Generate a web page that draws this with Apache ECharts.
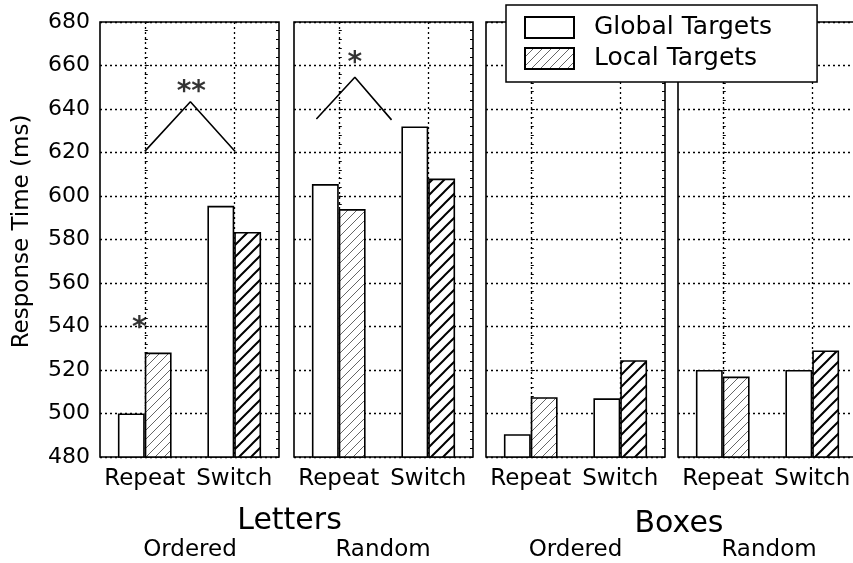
<!DOCTYPE html>
<html>
<head>
<meta charset="utf-8">
<script src="https://cdn.jsdelivr.net/npm/echarts@6/dist/echarts.min.js"></script>
<style>html,body{margin:0;padding:0;background:#fff}#c{width:853px;height:563px}</style>
</head>
<body>
<div id="c"></div>
<script>
// ---- data ----
const categories = ['Repeat', 'Switch'];
const panelNames = ['Letters Ordered', 'Letters Random', 'Boxes Ordered', 'Boxes Random'];
const seriesNames = ['Global Targets', 'Local Targets'];
const globalLettersOrdered = [500, 595.5];
const localLettersOrdered = [528, 583.5];
const globalLettersRandom = [605.5, 632];
const localLettersRandom = [594, 608];
const globalBoxesOrdered = [490.5, 507];
const localBoxesOrdered = [507.5, 524.5];
const globalBoxesRandom = [520, 520];
const localBoxesRandom = [517, 529];
const yMin = 480, yMax = 680, yStep = 20;
const yAxisTitle = 'Response Time (ms)';
const groupLabels = ['Letters', 'Boxes'];
const orderLabels = ['Ordered', 'Random', 'Ordered', 'Random'];
// significance annotations (value-axis x: 0 = Repeat, 1 = Switch)
const bracketLettersOrdered = [[0, 620.5], [0.51, 643.3], [1.01, 620.5]];
const bracketLettersRandom = [[-0.25, 635.4], [0.18, 654.6], [0.59, 635]];
const starsLettersOrdered = [{ value: [0.52, 647.5], name: '**' }, { value: [-0.06, 539], name: '*' }];
const starsLettersRandom = [{ value: [0.18, 661], name: '*' }];

const globalData = [globalLettersOrdered, globalLettersRandom, globalBoxesOrdered, globalBoxesRandom];
const localData = [localLettersOrdered, localLettersRandom, localBoxesOrdered, localBoxesRandom];
const brackets = [bracketLettersOrdered, bracketLettersRandom, null, null];
const stars = [starsLettersOrdered, starsLettersRandom, null, null];

// ---- styles ----
const FONT = 'DejaVu Sans';
function hatch(size, color, width) {
  const c = document.createElement('canvas');
  c.width = size; c.height = size;
  const g = c.getContext('2d');
  g.fillStyle = '#fff'; g.fillRect(0, 0, size, size);
  g.strokeStyle = color; g.lineWidth = width;
  g.beginPath();
  g.moveTo(0, size); g.lineTo(size, 0);
  g.moveTo(-size / 2, size / 2); g.lineTo(size / 2, -size / 2);
  g.moveTo(size / 2, size * 1.5); g.lineTo(size * 1.5, size / 2);
  g.stroke();
  return { image: c, repeat: 'repeat' };
}
const thinHatch = hatch(9, '#555', 0.9);
const thickHatch = hatch(12, '#000', 2);

const lefts = [100, 294, 486, 678];
const W = 179, TOP = 22, H = 435;
const dotted = { color: '#000', width: 1.3, type: [2, 3] };

const grids = [], xAxes = [], yAxes = [], series = [];
lefts.forEach((l, p) => {
  grids.push({ left: l, top: TOP, width: W, height: H, show: true, borderColor: '#000', borderWidth: 1.6,
    backgroundColor: 'transparent', containLabel: false, outerBoundsMode: 'none' });
});
lefts.forEach((l, p) => {
  xAxes.push({ type: 'category', gridIndex: p, data: categories, boundaryGap: true,
    axisLine: { show: false }, axisTick: { show: false },
    axisLabel: { interval: 0, hideOverlap: false, fontSize: 23, fontFamily: FONT, color: '#000', margin: 11 },
    splitLine: { show: true, alignWithLabel: true, lineStyle: dotted } });
});
lefts.forEach((l, p) => {
  xAxes.push({ type: 'value', gridIndex: p, min: -0.5, max: 1.5, show: false, splitLine: { show: false } });
});
lefts.forEach((l, p) => {
  yAxes.push({ type: 'value', gridIndex: p, min: yMin, max: yMax, interval: yStep, position: 'left',
    name: p === 0 ? yAxisTitle : '', nameLocation: 'middle', nameGap: 66,
    nameTextStyle: { fontSize: 23, fontFamily: FONT, color: '#000', padding: [0, 0, 0, 16] },
    axisLine: { show: false },
    axisTick: { show: true, inside: true, length: 4, lineStyle: { color: '#000', width: 1 } },
    minorTick: { show: true, splitNumber: 5, length: 3, lineStyle: { color: '#000', width: 1 } },
    axisLabel: { show: p === 0, fontSize: 22, fontFamily: FONT, color: '#000', margin: 10 },
    splitLine: { show: true, lineStyle: dotted } });
});
lefts.forEach((l, p) => {
  yAxes.push({ type: 'value', gridIndex: p, min: yMin, max: yMax, interval: yStep, position: 'right',
    axisLine: { show: false },
    axisTick: { show: true, inside: true, length: 4, lineStyle: { color: '#000', width: 1 } },
    minorTick: { show: true, splitNumber: 5, length: 3, lineStyle: { color: '#000', width: 1 } },
    axisLabel: { show: false }, splitLine: { show: false } });
});
lefts.forEach((l, p) => {
  series.push({ type: 'bar', name: seriesNames[0], xAxisIndex: p, yAxisIndex: p,
    barWidth: '30%', barGap: '0%', data: globalData[p],
    itemStyle: { color: '#fff', borderColor: '#000', borderWidth: 1.6 }, silent: true });
  series.push({ type: 'bar', name: seriesNames[1], xAxisIndex: p, yAxisIndex: p,
    barWidth: '30%', barGap: '0%',
    data: localData[p].map((v, i) => ({ value: v, itemStyle: { color: i === 0 ? thinHatch : thickHatch } })),
    itemStyle: { color: thinHatch, borderColor: '#000', borderWidth: 1.6 }, silent: true });
  if (brackets[p]) {
    series.push({ type: 'line', xAxisIndex: 4 + p, yAxisIndex: p, data: brackets[p], symbol: 'none',
      lineStyle: { color: '#000', width: 1.6 }, silent: true, z: 5 });
  }
  if (stars[p]) {
    series.push({ type: 'scatter', xAxisIndex: 4 + p, yAxisIndex: p, data: stars[p], symbolSize: 1,
      itemStyle: { color: 'rgba(0,0,0,0)' }, silent: true, z: 6,
      label: { show: true, position: 'inside', formatter: '{b}', fontSize: 28, fontWeight: 'bold', fontFamily: FONT, color: '#000' } });
  }
});

const texts = [
  { text: groupLabels[0], x: 289.5, y: 521, size: 30 },
  { text: groupLabels[1], x: 679, y: 524, size: 30 },
  { text: orderLabels[0], x: 190, y: 550, size: 23 },
  { text: orderLabels[1], x: 383, y: 550, size: 23 },
  { text: orderLabels[2], x: 575.5, y: 550, size: 23 },
  { text: orderLabels[3], x: 769, y: 550, size: 23 }
];

const option = {
  animation: false,
  backgroundColor: '#fff',
  legend: {
    data: seriesNames, orient: 'vertical', left: 506, top: 5,
    itemWidth: 49, itemHeight: 21, itemGap: 6, padding: [10, 45, 11, 18],
    borderColor: '#000', borderWidth: 1.5, backgroundColor: '#fff', selectedMode: false,
    icon: 'rect', z: 20,
    textStyle: { fontSize: 25, fontFamily: FONT, color: '#000', padding: [0, 0, 0, 15] }
  },
  grid: grids, xAxis: xAxes, yAxis: yAxes, series: series,
  graphic: texts.map(t => ({ type: 'text', x: t.x, y: t.y, silent: true,
    style: { text: t.text, fontSize: t.size, fontFamily: FONT, fill: '#000', textAlign: 'center', textVerticalAlign: 'middle' } }))
};
const chart = echarts.init(document.getElementById('c'), null, { renderer: 'canvas' });
chart.setOption(option);
</script>
</body>
</html>
